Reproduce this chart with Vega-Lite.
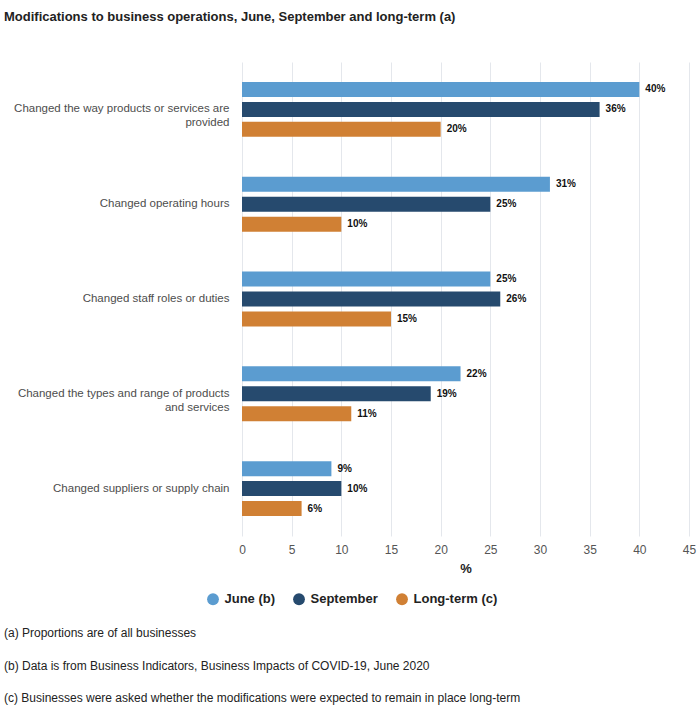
{
  "$schema": "https://vega.github.io/schema/vega-lite/v6.json",
  "padding": {"left": 4, "top": 11, "right": 4, "bottom": 4},
  "background": "white",
  "title": {
    "text": "Modifications to business operations, June, September and long-term (a)",
    "anchor": "start",
    "frame": "group",
    "dx": -238,
    "font": "Liberation Sans",
    "fontSize": 13,
    "fontWeight": "bold",
    "color": "#222222",
    "offset": 38
  },
  "config": {
    "view": {"stroke": null},
    "font": "Liberation Sans"
  },
  "vconcat": [
    {
      "width": 447,
      "height": 474,
      "title": {
        "text": [
          "(a) Proportions are of all businesses",
          "(b) Data is from Business Indicators, Business Impacts of COVID-19, June 2020",
          "(c) Businesses were asked whether the modifications were expected to remain in place long-term"
        ],
        "orient": "bottom",
        "anchor": "start",
        "frame": "group",
        "dx": -238,
        "font": "Liberation Sans",
        "fontSize": 12,
        "fontWeight": "normal",
        "lineHeight": 32.5,
        "color": "#222222",
        "offset": 53
      },
      "data": {
        "values": [
          {"Category": "Changed the way products or services are provided", "Period": "June (b)", "Value": 40},
          {"Category": "Changed the way products or services are provided", "Period": "September", "Value": 36},
          {"Category": "Changed the way products or services are provided", "Period": "Long-term (c)", "Value": 20},
          {"Category": "Changed operating hours", "Period": "June (b)", "Value": 31},
          {"Category": "Changed operating hours", "Period": "September", "Value": 25},
          {"Category": "Changed operating hours", "Period": "Long-term (c)", "Value": 10},
          {"Category": "Changed staff roles or duties", "Period": "June (b)", "Value": 25},
          {"Category": "Changed staff roles or duties", "Period": "September", "Value": 26},
          {"Category": "Changed staff roles or duties", "Period": "Long-term (c)", "Value": 15},
          {"Category": "Changed the types and range of products and services", "Period": "June (b)", "Value": 22},
          {"Category": "Changed the types and range of products and services", "Period": "September", "Value": 19},
          {"Category": "Changed the types and range of products and services", "Period": "Long-term (c)", "Value": 11},
          {"Category": "Changed suppliers or supply chain", "Period": "June (b)", "Value": 9},
          {"Category": "Changed suppliers or supply chain", "Period": "September", "Value": 10},
          {"Category": "Changed suppliers or supply chain", "Period": "Long-term (c)", "Value": 6}
        ]
      },
      "transform": [{"calculate": "datum.Value + '%'", "as": "Label"}],
      "encoding": {
        "y": {
          "field": "Category",
          "type": "nominal",
          "sort": null,
          "scale": {"paddingInner": 0, "paddingOuter": 0},
          "axis": {
            "title": null,
            "ticks": false,
            "domain": false,
            "labelPadding": 13,
            "labelFontSize": 11.5,
            "labelColor": "#4d4d4d",
            "labelLimit": 260,
            "labelLineHeight": 14,
            "labelExpr": "datum.value == 'Changed the way products or services are provided' ? ['Changed the way products or services are', 'provided'] : datum.value == 'Changed the types and range of products and services' ? ['Changed the types and range of products', 'and services'] : datum.value"
          }
        },
        "yOffset": {
          "field": "Period",
          "type": "nominal",
          "sort": ["June (b)", "September", "Long-term (c)"],
          "scale": {"paddingInner": 0.25, "paddingOuter": 1.15}
        },
        "x": {
          "field": "Value",
          "type": "quantitative",
          "scale": {"domain": [0, 45], "nice": false},
          "axis": {
            "values": [0, 5, 10, 15, 20, 25, 30, 35, 40, 45],
            "grid": true,
            "gridColor": "#e4e7ec",
            "domain": false,
            "ticks": false,
            "labelFlush": false,
            "labelColor": "#555555",
            "labelFontSize": 12,
            "labelPadding": 8,
            "title": "%",
            "titleFontSize": 13,
            "titleFontWeight": "bold",
            "titleColor": "#222222",
            "titlePadding": 7
          }
        }
      },
      "layer": [
        {
          "mark": {"type": "bar"},
          "encoding": {
            "color": {
              "field": "Period",
              "type": "nominal",
              "sort": ["June (b)", "September", "Long-term (c)"],
              "scale": {
                "domain": ["June (b)", "September", "Long-term (c)"],
                "range": ["#5b9cd0", "#264a6e", "#d08034"]
              },
              "legend": {
                "title": null,
                "orient": "none",
                "direction": "horizontal",
                "legendX": -35.5,
                "legendY": 530.5,
                "padding": 0,
                "symbolType": "circle",
                "symbolSize": 140,
                "symbolStrokeWidth": 0,
                "symbolOpacity": 1,
                "labelFont": "Liberation Sans",
                "labelFontSize": 13,
                "labelFontWeight": "bold",
                "labelColor": "#222222",
                "labelOffset": 5,
                "columnPadding": 17
              }
            }
          }
        },
        {
          "mark": {
            "type": "text",
            "align": "left",
            "baseline": "middle",
            "dx": 6,
            "fontSize": 10,
            "fontWeight": "bold",
            "color": "#111111"
          },
          "encoding": {
            "text": {"field": "Label", "type": "nominal"}
          }
        }
      ]
    }
  ]
}
